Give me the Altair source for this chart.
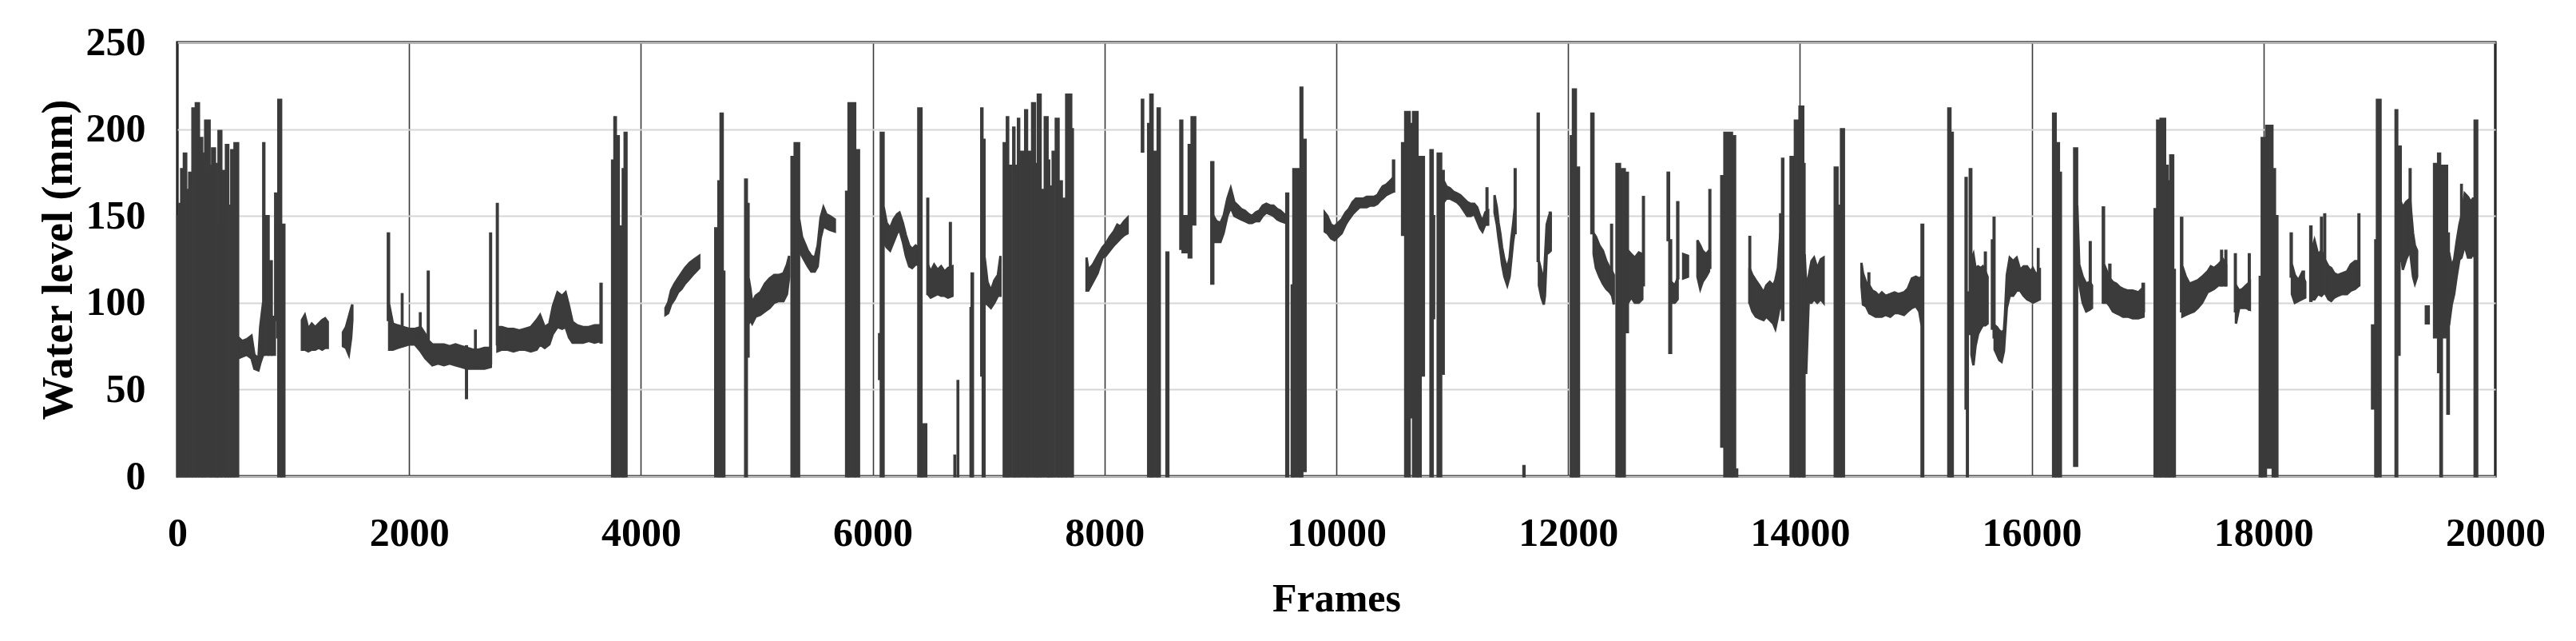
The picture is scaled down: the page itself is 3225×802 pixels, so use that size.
import altair as alt
import pandas as pd

# ---------------- data ----------------
# Noisy line stretches, drawn as envelopes: (frame, low, high) in mm
E01 = [(526,68,80),(560,69,78),(600,70,79),(640,68,81),(665,62,70),(700,61,68),(715,65,86),(740,70,100)]
E02 = [(1075,73,90),(1100,73,93),(1130,72,85),(1160,73,88),(1190,73,86),(1220,74,88),(1250,73,90),(1275,74,91),(1298,74,89)]
E03 = [(1429,75,83),(1455,74,86),(1480,70,92),(1500,80,97),(1510,90,99)]
E04 = [(1828,73,99),(1860,73,88),(1900,74,87),(1950,75,86),(2000,76,85),(2050,76,85),(2100,72,86),(2140,68,82),(2170,66,78),(2200,64,76),(2250,65,76),(2300,64,76),(2350,65,75),(2400,64,76),(2450,63,75),(2500,62,74),(2550,62,73),(2600,62,73),(2650,62,74),(2705,63,74)]
E05 = [(2762,72,86),(2800,73,86),(2850,73,85),(2900,72,85),(2950,73,84),(3000,73,85),(3050,72,86),(3100,73,90),(3130,76,93),(3170,74,86),(3210,76,88),(3240,82,98),(3280,86,106),(3320,85,104),(3350,86,106),(3380,80,98),(3410,77,89),(3450,77,87),(3500,77,86),(3550,78,86),(3600,77,87),(3655,78,87)]
E06 = [(4212,93,97),(4235,94,100),(4260,99,107),(4290,102,111),(4320,106,114),(4350,108,117),(4380,111,120),(4420,114,123),(4460,117,125),(4503,120,127)]
E07 = [(4930,88,114),(4945,90,108),(4960,88,100),(4990,92,104),(5030,93,106),(5070,95,111),(5110,97,114),(5150,100,116),(5190,101,116),(5230,101,117),(5260,105,122),(5279,115,127)]
E08 = [(5366,130,148),(5390,127,138),(5415,124,134),(5440,121,130),(5470,118,127),(5500,118,126),(5525,121,133),(5550,137,149),(5575,144,155),(5600,143,151),(5630,142,150),(5673,141,148)]
E09 = [(6095,135,155),(6120,132,146),(6150,130,143),(6180,135,148),(6210,140,151),(6231,142,152),(6260,135,146),(6286,127,139),(6315,121,133),(6340,120,131),(6370,122,133),(6392,122,132)]
E10 = [(6476,105,122),(6500,103,118),(6530,104,122),(6560,105,119),(6590,104,121),(6620,104,118),(6650,103,120),(6688,104,121)]
E11 = [(6966,100,126),(6990,99,112),(7020,97,107),(7050,100,113),(7080,104,116),(7102,104,127)]
E12 = [(7845,107,126),(7860,107,119),(7900,112,122),(7940,117,127),(7983,126,132),(8010,127,134),(8045,130,138),(8080,133,141),(8110,135,145),(8137,137,144),(8170,139,147),(8199,140,149)]
E13 = [(8940,135,150),(8966,135,147),(9000,135,146),(9027,140,150),(9060,150,160),(9089,155,166),(9120,150,158),(9150,149,156),(9180,148,154),(9212,147,153),(9245,146,151),(9273,146,150),(9305,147,152),(9335,147,153),(9365,150,156),(9396,152,157),(9430,151,156),(9458,150,156),(9490,148,154),(9519,147,153),(9565,146,150)]
E14 = [(9900,141,152),(9923,140,150),(9955,137,145),(9985,136,144),(10015,138,146),(10046,140,148),(10080,145,152),(10108,148,154),(10140,151,158),(10169,153,160),(10200,155,160),(10231,155,160),(10262,155,161),(10292,156,161),(10325,156,161),(10354,157,162),(10380,159,165),(10400,160,167),(10430,162,168),(10461,163,170),(10490,164,172)]
E15 = [(10928,158,170),(10950,160,167),(10980,160,166),(11010,159,164),(11040,158,163),(11070,156,162),(11100,153,160),(11130,150,158),(11160,150,157),(11190,151,157),(11215,147,155),(11240,143,150),(11261,141,147),(11285,145,152),(11310,145,153)]
E16 = [(11365,152,162),(11385,145,155),(11400,137,146),(11415,130,140),(11430,122,132),(11450,115,125),(11475,110,120),(11495,115,126),(11510,125,137),(11525,135,145),(11540,142,155)]
E17 = [(11748,110,124),(11770,103,118),(11790,99,112),(11800,104,125),(11815,128,145),(11835,129,150),(11850,130,152)]
E18 = [(12220,128,140),(12240,120,138),(12270,115,133),(12300,111,130),(12330,108,124),(12360,106,120),(12380,104,118),(12394,99,116)]
E19 = [(12517,100,130),(12545,103,128),(12575,100,126),(12610,100,129),(12640,102,128)]
E20 = [(12890,100,112),(12920,100,110),(12945,102,114)]
E21 = [(12993,114,128),(13034,115,127)]
E22 = [(13116,115,136),(13140,108,133),(13160,112,130),(13190,115,128),(13215,118,130)]
E23 = [(13565,100,120),(13590,95,116),(13619,92,113),(13650,91,110),(13687,90,106),(13710,92,110),(13740,90,112),(13770,88,110),(13788,85,113),(13810,92,120),(13831,100,140),(13850,95,120)]
E24 = [(14041,87,128),(14054,59,110),(14075,100,115),(14100,100,124),(14122,102,126),(14150,100,120),(14180,102,125),(14204,100,126)]
E25 = [(14531,110,123),(14544,99,117),(14570,98,112),(14599,94,110),(14625,93,107),(14653,92,106),(14680,92,104),(14707,92,106),(14740,93,104),(14780,92,105),(14816,94,106),(14850,94,105),(14898,93,106),(14930,95,108),(14966,97,114),(15000,98,115),(15030,95,114),(15050,87,115)]
E26 = [(15480,70,125),(15497,64,128),(15515,75,120),(15537,82,121),(15560,85,120),(15578,87,121),(15600,87,118),(15619,88,115)]
E27 = [(15680,73,87),(15700,70,86),(15720,67,84),(15740,66,83),(15760,72,84),(15768,80,92),(15785,97,116),(15810,104,126),(15840,104,124),(15870,107,126),(15900,107,119),(15930,104,121),(15960,102,121),(15990,101,118),(16010,100,120),(16040,101,116),(16070,102,120)]
E28 = [(16393,130,156),(16410,111,122),(16440,100,115),(16470,95,111),(16500,96,112),(16520,97,110)]
E29 = [(16625,100,122),(16650,100,118),(16674,98,114),(16700,95,112),(16730,94,111),(16760,93,109),(16787,92,108),(16830,92,107),(16871,91,107),(16920,91,106),(16965,92,109)]
E30 = [(17300,92,121),(17330,93,115),(17362,94,111),(17400,95,112),(17433,97,113),(17470,100,115),(17517,106,118),(17545,107,121),(17573,108,120),(17610,110,122),(17650,110,125),(17677,110,122)]
E31 = [(17762,88,110),(17790,97,107),(17820,97,108),(17850,97,110),(17882,96,112)]
E32 = [(18245,105,122),(18270,100,116),(18300,101,113),(18330,102,117),(18360,103,112)]
E33 = [(18415,102,130),(18440,102,136),(18470,105,128),(18500,104,130),(18528,106,125),(18560,102,121),(18584,101,120),(18610,103,117),(18640,104,116),(18680,105,117),(18720,105,118),(18753,107,122),(18790,108,124),(18825,110,124)]
E34 = [(19185,129,158),(19202,119,155),(19230,125,158),(19264,130,160),(19290,115,140),(19306,111,133),(19325,115,130)]
E35 = [(19600,87,129),(19624,99,121),(19645,105,125),(19666,115,135),(19690,125,145),(19708,126,150),(19736,133,163),(19764,126,161),(19790,126,158),(19806,128,160),(19825,126,160)]

# Vertical bursts and spikes: (frame start, frame end, low, high) in mm
C01 = [(0,9,0,150),(9,32,0,157),(32,55,0,177),(55,78,0,186),(78,101,0,165),(101,129,0,175),(129,158,0,212),(158,188,0,215),(188,216,0,195),(216,239,0,186),(239,280,0,205),(280,299,0,179),(299,326,0,189),(326,342,0,180),(342,354,0,146),(354,381,0,199),(381,418,0,176),(418,441,0,191),(441,464,0,156),(464,492,0,188),(492,526,0,192)]
C02 = [(740,752,70,192),(752,789,70,150),(789,816,70,124),(816,843,70,92),(843,860,90,163),(860,870,80,120),(870,897,0,217),(897,925,0,145)]
C03 = [(1815,1828,90,140),(1936,1944,75,105),(2092,2100,76,94),(2160,2170,70,118),(2490,2500,45,75),(2568,2576,70,84),(2698,2708,65,140),(2756,2766,76,157),(3650,3662,77,111)]
C04 = [(3750,3770,0,182),(3770,3785,0,207),(3785,3810,0,196),(3810,3842,0,144),(3842,3858,0,177),(3858,3877,0,198)]
C05 = [(4640,4667,0,143),(4667,4686,0,170),(4686,4707,0,209),(4707,4721,0,118),(4898,4915,0,171),(4915,4930,69,157),(5298,5325,0,184),(5325,5366,0,192),(5769,5790,0,164),(5790,5850,0,215),(5850,5883,0,188)]
C06 = [(6054,6070,56,82),(6068,6095,0,198),(6392,6422,0,212),(6422,6463,0,30),(6470,6480,105,160),(6665,6675,105,146),(6704,6712,0,12),(6731,6739,0,55),(6843,6852,0,97),(6852,6866,0,117),(6935,6948,58,212),(6948,6966,0,194)]
C07 = [(7129,7156,0,192),(7156,7170,0,207),(7178,7197,0,179),(7211,7224,0,201),(7224,7243,0,179),(7252,7265,0,206),(7271,7298,0,187),(7314,7333,0,211),(7333,7360,0,187),(7374,7401,0,215),(7401,7423,0,180),(7423,7450,0,220),(7450,7469,0,165),(7483,7510,0,207),(7510,7524,0,182),(7524,7543,0,167),(7551,7565,0,187),(7578,7605,0,206),(7605,7633,0,170),(7633,7668,0,160),(7668,7714,0,220),(7714,7728,0,200)]
C08 = [(8321,8335,187,217),(8375,8394,0,203),(8394,8416,0,220),(8416,8457,0,187),(8457,8478,0,212),(8533,8552,0,129),(8653,8672,131,205),(8672,8725,129,150),(8725,8750,126,191),(8750,8784,145,207),(8920,8940,111,181)]
C09 = [(9567,9586,0,163),(9614,9628,0,110),(9628,9690,0,177),(9690,9708,0,224),(9708,9736,3,194)]
C10 = [(10488,10500,164,182),(10566,10593,139,192),(10593,10634,0,210),(10634,10661,34,203),(10661,10702,0,210),(10702,10729,0,184),(10729,10757,58,184),(10811,10833,0,188),(10833,10845,91,150),(10873,10906,0,186),(10906,10928,59,176)]
C11 = [(11295,11305,145,166),(11538,11548,140,177),(11613,11625,0,6),(11736,11748,124,209),(11840,11850,135,152)]
C12 = [(12022,12040,0,196),(12040,12068,0,223),(12068,12095,0,178),(12199,12220,140,209),(12370,12380,110,145),(12416,12449,0,180),(12449,12490,0,177),(12490,12517,83,175),(12645,12655,110,161)]
C13 = [(12857,12872,136,175),(12872,12890,71,136),(12940,12952,114,158),(13218,13228,120,165),(13320,13347,17,173),(13347,13415,0,198),(13415,13442,0,196),(13455,13460,0,4),(13563,13572,100,138),(13828,13840,100,151),(13845,13858,90,183)]
C14 = [(13918,13955,0,184),(13955,13995,0,205),(13995,14030,0,213),(14030,14041,0,180),(14299,14326,0,178),(14326,14353,0,156),(14353,14381,0,200),(14590,14600,100,117),(15048,15065,0,145),(15279,15300,0,212),(15300,15320,0,198)]
C15 = [(15428,15440,39,172),(15440,15450,0,106),(15464,15480,82,177),(15595,15605,100,129),(15655,15668,85,136),(15670,15680,80,149),(16052,16060,105,131)]
C16 = [(16183,16208,0,209),(16208,16236,0,192),(16236,16253,0,175),(16365,16393,6,189),(16500,16510,105,135),(16612,16625,100,155),(16668,16680,100,122),(16955,16969,95,111)]
C17 = [(17059,17081,0,154),(17081,17110,0,205),(17110,17152,0,206),(17152,17174,0,179),(17174,17194,0,170),(17194,17222,0,185),(17222,17236,0,119),(17287,17300,95,149),(17633,17643,110,130),(17670,17680,110,130),(17752,17762,95,128),(17872,17882,96,128)]
C18 = [(17966,17983,0,115),(17983,18022,0,195),(18022,18078,5,202),(18078,18100,0,177),(18100,18121,0,150),(18233,18245,115,140),(18340,18350,105,118),(18402,18415,101,144),(18495,18505,105,149),(18523,18533,106,151),(18818,18828,110,151)]
C19 = [(18935,18963,39,87),(18963,18977,0,136),(18977,19011,0,217),(19138,19155,0,211),(19155,19175,70,190),(19175,19185,124,190),(19260,19270,130,177),(19399,19427,88,98),(19470,19490,80,180),(19505,19525,60,186),(19525,19540,0,179),(19540,19585,80,179),(19585,19600,36,140),(19704,19712,130,168),(19820,19845,0,205)]

X_TICKS = list(range(0, 20001, 2000))
Y_TICKS = [0, 50, 100, 150, 200, 250]

ENVELOPES = [E01, E02, E03, E04, E05, E06, E07, E08, E09, E10, E11, E12, E13, E14, E15, E16, E17, E18,
             E19, E20, E21, E22, E23, E24, E25, E26, E27, E28, E29, E30, E31, E32, E33, E34, E35]
COLUMNS = [C01, C02, C03, C04, C05, C06, C07, C08, C09, C10, C11, C12, C13, C14, C15, C16, C17, C18, C19]

env = pd.DataFrame([{"seg": i, "frame": f, "lo": lo, "hi": hi}
                    for i, seg in enumerate(ENVELOPES) for (f, lo, hi) in seg])
cols = pd.DataFrame([{"x0": a, "x1": b, "lo": c, "hi": d}
                     for grp in COLUMNS for (a, b, c, d) in grp])

INK = "#3b3b3b"
FONT = "Liberation Serif"

x_axis = alt.Axis(values=X_TICKS, format="d", title="Frames", grid=True, gridColor="#3a3a3a", gridWidth=1.6,
                  domain=False, ticks=False, tickSize=0, labelFlush=False, labelOverlap=False,
                  labelPadding=86, labelBaseline="alphabetic", titleY=168, titleBaseline="alphabetic")
y_axis = alt.Axis(values=Y_TICKS, format="d", title="Water level (mm)", grid=True, gridColor="#d6d6d6", gridWidth=2.2,
                  domain=False, ticks=False, tickSize=0, labelPadding=40, labelOverlap=False,
                  titleX=-122, titleBaseline="bottom")

xs = alt.Scale(domain=[0, 20000], nice=False, zero=False)
ys = alt.Scale(domain=[0, 250], nice=False)

areas = alt.Chart(env).mark_area(color=INK, stroke=INK, strokeWidth=3, opacity=1).encode(
    x=alt.X("frame:Q", scale=xs, axis=x_axis),
    y=alt.Y("hi:Q", scale=ys, axis=y_axis),
    y2="lo:Q",
    detail="seg:N",
)

rects = alt.Chart(cols).mark_rect(color=INK, stroke=INK, strokeWidth=2.5, opacity=1).encode(
    x=alt.X("x0:Q", scale=xs, axis=x_axis),
    x2="x1:Q",
    y=alt.Y("lo:Q", scale=ys, axis=y_axis),
    y2="hi:Q",
)

chart = alt.layer(areas, rects).properties(
    width=2902, height=543,
    padding={"left": 214, "top": 45, "right": 90, "bottom": 190},
    autosize=alt.AutoSizeParams(type="none"),
).configure_view(
    stroke="black", strokeWidth=3
).configure_axis(
    labelFont=FONT, labelFontSize=50, labelFontWeight="bold", labelColor="black",
    titleFont=FONT, titleFontWeight="bold", titleColor="black",
).configure_axisX(
    titleFontSize=50
).configure_axisY(
    titleFontSize=54
)

chart.save("out.html", embed_options={"renderer": "svg", "actions": False})
